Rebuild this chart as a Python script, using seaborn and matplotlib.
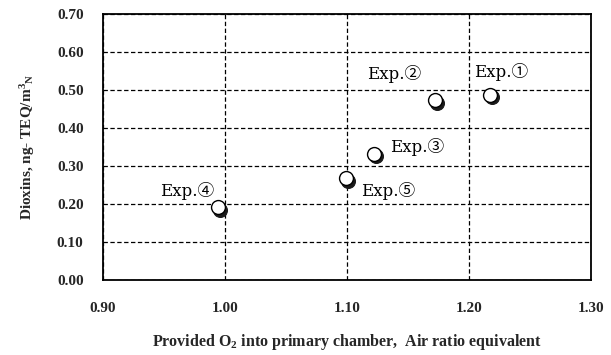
import matplotlib
matplotlib.use("Agg")
import matplotlib.pyplot as plt
import matplotlib.transforms as mtransforms
import seaborn as sns
import pandas as pd

# ---- data ----
experiments = ["Exp.①", "Exp.②", "Exp.③", "Exp.④", "Exp.⑤"]
air_ratio = [1.217, 1.172, 1.122, 0.994, 1.099]
dioxins = [0.487, 0.473, 0.332, 0.192, 0.268]
x_ticks = [0.90, 1.00, 1.10, 1.20, 1.30]
y_ticks = [0.00, 0.10, 0.20, 0.30, 0.40, 0.50, 0.60, 0.70]

df = pd.DataFrame({"exp": experiments, "air": air_ratio, "dxn": dioxins})

# label offsets (pixels) relative to each point
label_offsets = [(11, 23), (-41, 26), (43, 7), (-31, 16), (42, -13)]

sns.set_theme(style="white")
plt.rcParams["font.family"] = ["Liberation Serif", "DejaVu Serif"]
plt.rcParams["mathtext.fontset"] = "custom"
plt.rcParams["mathtext.rm"] = "Liberation Serif:bold"
plt.rcParams["mathtext.it"] = "Liberation Serif:bold"
plt.rcParams["mathtext.bf"] = "Liberation Serif:bold"
plt.rcParams["mathtext.default"] = "rm"

fig = plt.figure(figsize=(6.11, 3.55), dpi=100)
ax = fig.add_axes([103 / 611, 1 - 280 / 355, (591 - 103) / 611, (280 - 14) / 355])

# shadow (dark) markers, shifted lower-right
sns.scatterplot(data=df, x="air", y="dxn", ax=ax, color="#1a1a1a", s=100,
                edgecolor="#1a1a1a", linewidth=0.8, legend=False, zorder=3)
shadow = ax.collections[-1]
shadow.set_offset_transform(mtransforms.offset_copy(ax.transData, fig=fig, x=2.5, y=-2.5, units="dots"))

# white highlight markers
sns.scatterplot(data=df, x="air", y="dxn", ax=ax, color="white", s=100,
                edgecolor="black", linewidth=1.0, legend=False, zorder=4)

for (name, xv, yv), (dx, dy) in zip(zip(experiments, air_ratio, dioxins), label_offsets):
    ax.annotate(name, (xv, yv), xytext=(dx, dy), textcoords="offset pixels",
                ha="center", va="center", fontsize=12,
                family=["DejaVu Serif", "Noto Sans CJK JP"], color="black", zorder=5)

ax.set_xlim(0.90, 1.30)
ax.set_ylim(0.00, 0.70)
ax.set_xticks(x_ticks)
ax.set_yticks(y_ticks)
ax.set_xticklabels([f"{v:.2f}" for v in x_ticks], fontweight="bold", fontsize=11)
ax.set_yticklabels([f"{v:.2f}" for v in y_ticks], fontweight="bold", fontsize=11)
ax.tick_params(axis="both", direction="in", length=4, width=1.2, color="black")
ax.tick_params(axis="x", pad=16)
ax.tick_params(axis="y", pad=14)

ax.grid(True, color="black", linestyle=(0, (3.5, 2)), linewidth=0.9)
for sp in ax.spines.values():
    sp.set_color("black")
    sp.set_linewidth(1.3)

ax.set_xlabel(r"Provided O$_{2}$ into primary chamber,  Air ratio equivalent",
              fontweight="bold", fontsize=11.5, labelpad=12)
ax.set_ylabel(r"Dioxins, ng- TEQ/m$^{3}$$_{\rm N}$", fontweight="bold", fontsize=11, labelpad=14)

fig.savefig("out.png", dpi=100, facecolor="white")
